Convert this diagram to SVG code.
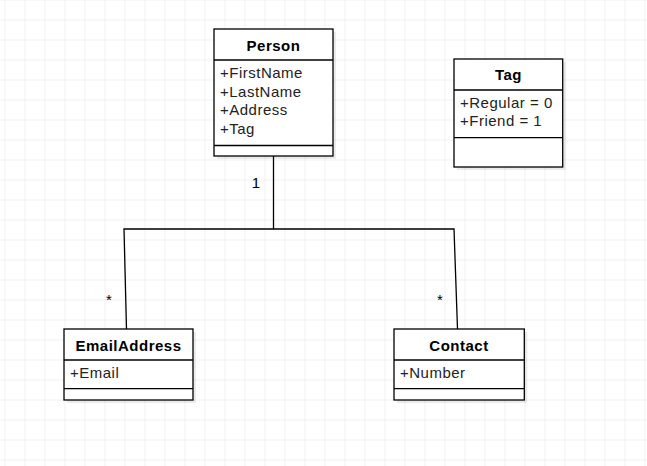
<svg xmlns="http://www.w3.org/2000/svg" width="647" height="466" viewBox="0 0 647 466">
<defs>
<pattern id="grid" x="4.5" y="19.5" width="20" height="20" patternUnits="userSpaceOnUse">
<path d="M0 0 H20 M0 0 V20" fill="none" stroke="#e3e3e3" stroke-width="1"/>
</pattern>
</defs>
<style>
.box{fill:#fff;stroke:#000;stroke-width:1.3}
.sh{fill:#000;opacity:0.08}
.sep{stroke:#000;stroke-width:1.3}
.t{font-family:"Liberation Sans",Arial,sans-serif;font-size:15px;letter-spacing:0.5px;fill:#222}
.h{font-family:"Liberation Sans",Arial,sans-serif;font-size:15px;font-weight:bold;letter-spacing:0.5px;fill:#000;text-anchor:middle}
.c{fill:none;stroke:#000;stroke-width:1.3}
.l{font-family:"Liberation Sans",Arial,sans-serif;font-size:15px;fill:#000;text-anchor:middle}
</style>
<rect width="647" height="466" fill="#fff"/>
<rect width="647" height="466" fill="url(#grid)"/>
<g id="connectors">
<polyline class="c" points="273.5,156 273.5,229"/>
<polyline class="c" points="126.5,329 124,229 454,229 457.5,329"/>
<text class="l" x="256" y="188">1</text>
<text class="l" x="109" y="305">*</text>
<text class="l" x="440" y="305">*</text>
</g>
<g id="person">
<rect class="sh" x="217" y="32" width="119" height="127"/>
<rect class="box" x="214" y="29" width="119" height="127"/>
<line class="sep" x1="214" y1="60" x2="333" y2="60"/>
<line class="sep" x1="214" y1="145.5" x2="333" y2="145.5"/>
<text class="h" x="273.5" y="50.5">Person</text>
<text class="t" x="220" y="78">+FirstName</text>
<text class="t" x="220" y="96.7">+LastName</text>
<text class="t" x="220" y="115.3">+Address</text>
<text class="t" x="220" y="134">+Tag</text>
</g>
<g id="tag">
<rect class="sh" x="457" y="62" width="108.7" height="108"/>
<rect class="box" x="454" y="59" width="108.7" height="108"/>
<line class="sep" x1="454" y1="90" x2="562.7" y2="90"/>
<line class="sep" x1="454" y1="137.7" x2="562.7" y2="137.7"/>
<text class="h" x="508.5" y="79.5">Tag</text>
<text class="t" x="460" y="107.5">+Regular = 0</text>
<text class="t" x="460" y="126">+Friend = 1</text>
</g>
<g id="emailaddress">
<rect class="sh" x="67" y="332" width="129" height="71"/>
<rect class="box" x="64" y="329" width="129" height="71"/>
<line class="sep" x1="64" y1="360" x2="193" y2="360"/>
<line class="sep" x1="64" y1="388.7" x2="193" y2="388.7"/>
<text class="h" x="128.5" y="350.5">EmailAddress</text>
<text class="t" x="70" y="378.3">+Email</text>
</g>
<g id="contact">
<rect class="sh" x="397" y="332" width="130.3" height="71"/>
<rect class="box" x="394" y="329" width="130.3" height="71"/>
<line class="sep" x1="394" y1="360" x2="524.3" y2="360"/>
<line class="sep" x1="394" y1="388.7" x2="524.3" y2="388.7"/>
<text class="h" x="459" y="350.5">Contact</text>
<text class="t" x="400" y="378.3">+Number</text>
</g>
</svg>
